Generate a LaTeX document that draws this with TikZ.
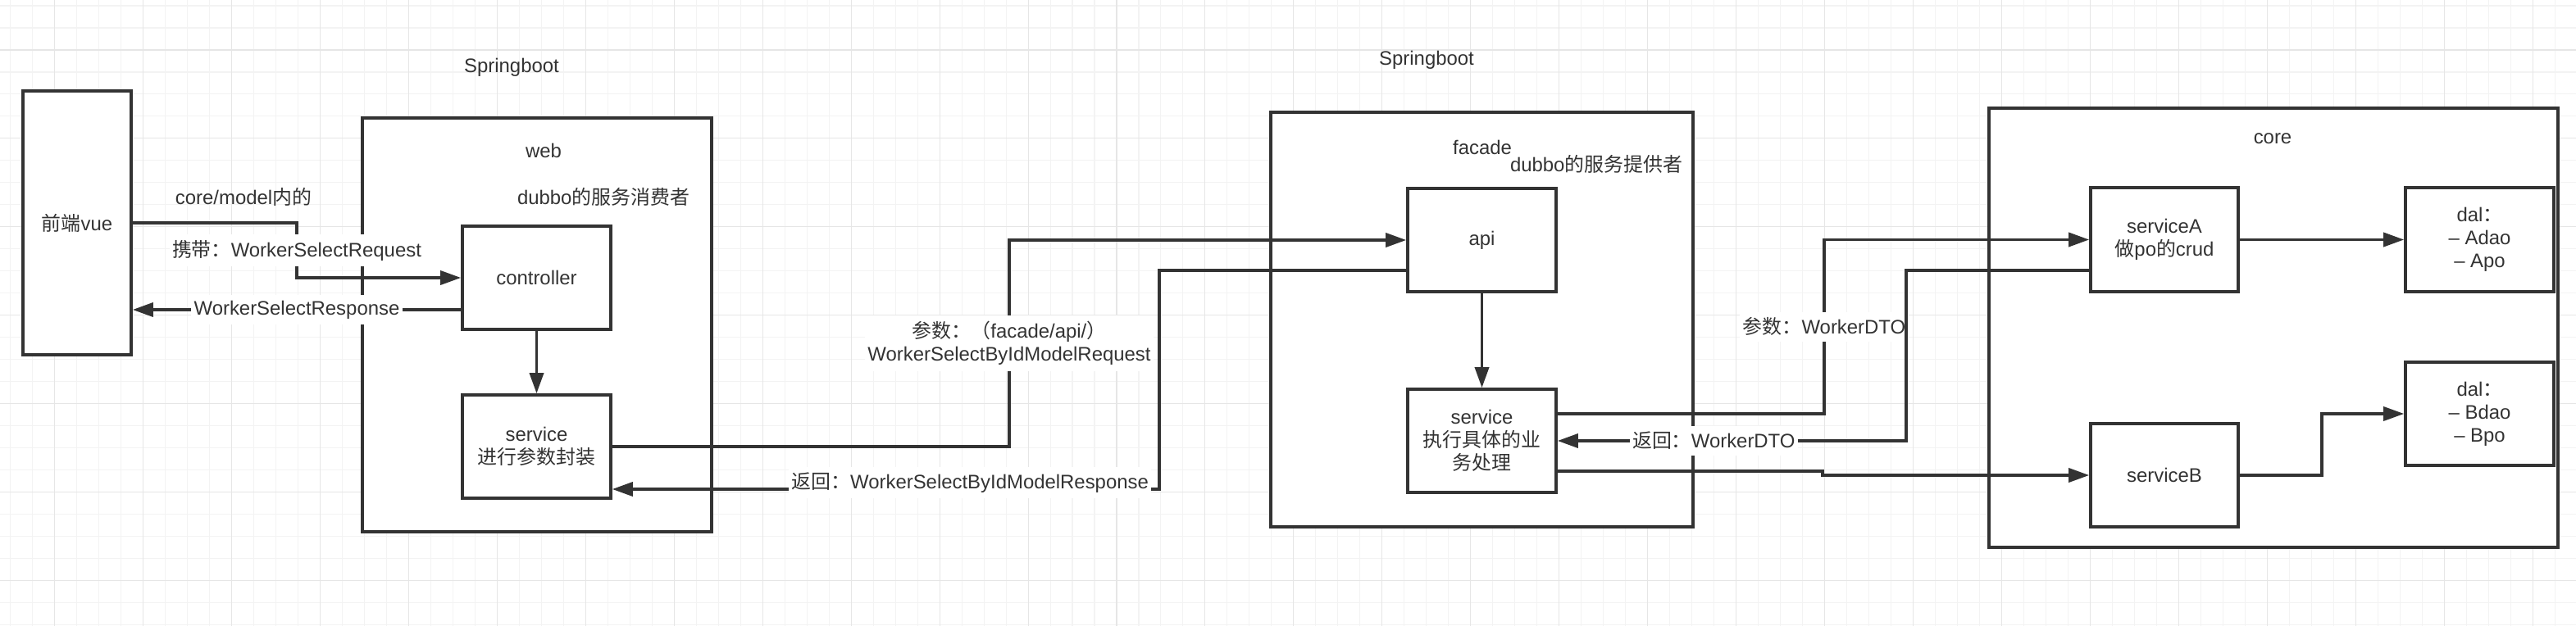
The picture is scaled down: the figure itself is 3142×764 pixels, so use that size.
\documentclass[tikz,border=0pt]{standalone}
\usepackage{fontspec}
\setmainfont{Liberation Sans}
\newfontfamily\cjk{Noto Sans CJK SC}
\usetikzlibrary{arrows.meta}
\definecolor{ink}{HTML}{333333}
\definecolor{gridminor}{HTML}{F3F3F3}
\definecolor{gridmajor}{HTML}{E6E6E6}

\begin{document}
\begin{tikzpicture}[x=0.01cm, y=-0.01cm,
    font=\fontsize{6.8}{8}\selectfont,
    frame/.style={draw=ink, fill=white, line width=1pt},
    box/.style={draw=ink, fill=white, line width=1pt, minimum width=1.81cm, minimum height=1.26cm, align=center, inner sep=0pt, text=ink},
    txt/.style={text=ink, align=center, inner sep=1pt},
    lbl/.style={txt, fill=white, inner xsep=1pt, inner ysep=2pt},
    flow/.style={draw=ink, line width=1pt, -{Triangle[length=0.25cm,width=0.17cm]}}]
        \useasboundingbox (0,0) rectangle (3142,764);
        \fill[white] (0,0) rectangle (3142,764);
        % grid
        \foreach \i in {0,...,116} {\draw[gridminor, line width=0.3pt] ({12.73+26.985*\i},0) -- ++(0,764);}
        \foreach \i in {0,...,28} {\draw[gridminor, line width=0.3pt] (0,{7.03+26.985*\i}) -- ++(3142,0);}
        \foreach \i in {0,...,28} {\draw[gridmajor, line width=0.3pt] ({66.7+107.94*\i},0) -- ++(0,764);}
        \foreach \i in {0,...,6} {\draw[gridmajor, line width=0.3pt] (0,{61+107.94*\i}) -- ++(3142,0);}

        \draw[frame] (442,144) rectangle (868,649); % web
        \draw[frame] (1550,137) rectangle (2065,643); % facade
        \draw[frame] (2426,132) rectangle (3120,668); % core

        \node[txt] (boot1) at(624,82){Springboot};
        \node[txt] (boot2) at(1740,73){Springboot};
        \node[txt] (web) at(663,184){web};
        \node[txt] (consumer) at(736,240){dubbo{\cjk 的服务消费者}};
        \node[txt] (facade) at(1808,180){facade};
        \node[txt] (provider) at(1947,200){dubbo{\cjk 的服务提供者}};
        \node[txt] (core) at(2772,169){core};
        \node[txt] (model) at(297,240){core/model{\cjk 内的}};

        \node[box, minimum width=1.32cm, minimum height=3.22cm] (vue) at(94,272){{\cjk 前端}vue};
        \node[box] (controller) at(654.5,339){controller};
        \node[box] (wservice) at(654.5,545){service\\{\cjk 进行参数封装}};
        \node[box] (api) at(1807.5,293){api};
        \node[box] (fservice) at(1807.5,538){service\\{\cjk 执行具体的业}\\{\cjk 务处理}};
        \node[box, minimum width=1.80cm, minimum height=1.27cm] (serviceA) at(2640,292.5){serviceA\\{\cjk 做}po{\cjk 的}crud};
        \node[box, minimum width=1.80cm] (serviceB) at(2640,580){serviceB};
        \node[box, minimum height=1.27cm] (dalA) at(3024.5,292.5){dal{\cjk ：}\\– Adao\\– Apo};
        \node[box] (dalB) at(3024.5,505){dal{\cjk ：}\\– Bdao\\– Bpo};

        \draw[flow] (vue.east) -- (362,272) |- node[lbl, pos=0.25]{{\cjk 携带：}WorkerSelectRequest} (controller.west);
        \draw[flow] (controller.west |- 0,378) -- node[lbl]{WorkerSelectResponse} (vue.east |- 0,378);
        \draw[flow] (controller) -- (wservice);
        \draw[flow] (wservice.east) -- (1231,545) |- node[lbl, pos=0.25]{{\cjk 参数：（}facade/api/{\cjk ）}\\WorkerSelectByIdModelRequest} (api.west);
        \draw[flow] (api.west |- 0,330) -- (1414,330) |- node[lbl, pos=0.673, yshift=0.08cm]{{\cjk 返回：}WorkerSelectByIdModelResponse} (wservice.east |- 0,597);
        \draw[flow] (api) -- (fservice);
        \draw[flow] (fservice.east |- 0,505) -- (2225,505) |- node[lbl, pos=0.25]{{\cjk 参数：}WorkerDTO} (serviceA.west);
        \draw[flow] (serviceA.west |- 0,330) -- (2325,330) |- node[lbl, pos=0.776]{{\cjk 返回：}WorkerDTO} (fservice.east);
        \draw[flow] (fservice.east |- 0,575) -- (2223,575) -- (2223,580) -- (serviceB.west);
        \draw[flow] (serviceA) -- (dalA);
        \draw[flow] (serviceB.east) -- (2832,580) |- (dalB.west);
    \end{tikzpicture}
\end{document}
